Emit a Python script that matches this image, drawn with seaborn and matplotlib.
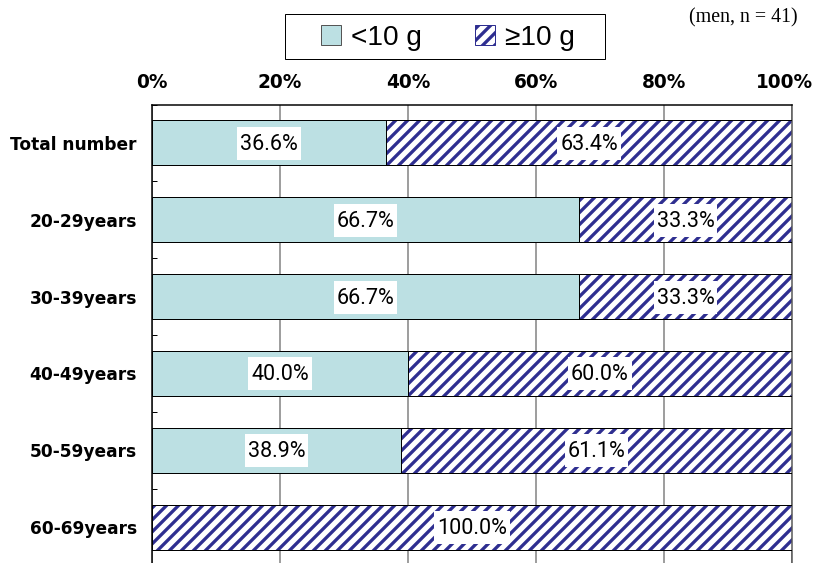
import matplotlib
matplotlib.use("Agg")
import matplotlib.pyplot as plt
from matplotlib.patches import Patch, Rectangle
from matplotlib.path import Path
from matplotlib.transforms import ScaledTranslation
import seaborn as sns
import pandas as pd

# Share of men by daily intake, per age group (percent)
groups = ["Total number", "20-29years", "30-39years", "40-49years", "50-59years", "60-69years"]
under_10g = [36.6, 66.7, 66.7, 40.0, 38.9, 0.0]
over_10g = [63.4, 33.3, 33.3, 60.0, 61.1, 100.0]
x_ticks = [0, 20, 40, 60, 80, 100]
x_tick_labels = ["0%", "20%", "40%", "60%", "80%", "100%"]
legend_labels = ["<10 g", "≥10 g"]
note = "(men, n = 41)"

LIGHT = "#BCE0E3"
NAVY = "#2E2E90"

sns.set_theme(style="white")
plt.rcParams["hatch.linewidth"] = 3.3
plt.rcParams["font.family"] = ["Liberation Sans", "DejaVu Sans"]
plt.rcParams["text.color"] = "black"
plt.rcParams["xtick.color"] = "black"
plt.rcParams["ytick.color"] = "black"

df = pd.DataFrame({"group": groups, "under": under_10g, "over": over_10g})
df["total"] = df["under"] + df["over"]

W, H = 819, 563
fig = plt.figure(figsize=(W / 72, H / 72), dpi=72)
ax = fig.add_axes([152 / W, 1 - 565.5 / H, 640 / W, (565.5 - 104.5) / H])

bar_w = 0.585
# full-length hatched bar (the >=10 g share sits on the right)
sns.barplot(data=df, x="total", y="group", orient="h", ax=ax, width=bar_w,
            color="white", edgecolor=NAVY, hatch="//", linewidth=0, saturation=1)
# plain bar for the <10 g share drawn over its left part
sns.barplot(data=df, x="under", y="group", orient="h", ax=ax, width=bar_w,
            color=LIGHT, edgecolor="none", linewidth=0, saturation=1)
# black outlines for every segment
for i, (u, o) in enumerate(zip(under_10g, over_10g)):
    if u > 0:
        ax.barh(i, u, height=bar_w, left=0, fill=False, edgecolor="black", linewidth=1.0, zorder=3)
    if o > 0:
        ax.barh(i, o, height=bar_w, left=u, fill=False, edgecolor="black", linewidth=1.0, zorder=3)


def label_box(x0, y0, width, height, mutation_size):
    # white plate behind the value labels, taller above the text than below
    l, r, b, t = 3.0, 3.0, 5.0, 7.0
    xa, xb = x0 - l, x0 + width + r
    ya, yb = y0 - b, y0 + height + t
    return Path([(xa, ya), (xb, ya), (xb, yb), (xa, yb), (xa, ya)],
                [Path.MOVETO, Path.LINETO, Path.LINETO, Path.LINETO, Path.CLOSEPOLY])


label_font = dict(family=["Roboto", "DejaVu Sans"], size=21.5, color="black")
box = dict(boxstyle=label_box, facecolor="white", edgecolor="none")
for i, (u, o) in enumerate(zip(under_10g, over_10g)):
    if u > 0:
        ax.text(u / 2, i + 0.02, f"{u:.1f}%", ha="center", va="center", bbox=box, zorder=4, **label_font)
    if o > 0:
        ax.text(u + o / 2, i + 0.02, f"{o:.1f}%", ha="center", va="center", bbox=box, zorder=4, **label_font)

ax.set_xlim(0, 100)
ax.set_ylim(5.5, -0.5)
ax.set_xlabel("")
ax.set_ylabel("")
ax.set_xticks(x_ticks)
ax.set_xticklabels(x_tick_labels)
ax.xaxis.tick_top()
ax.tick_params(axis="x", length=0, pad=13)
for t in ax.get_xticklabels():
    t.set_fontfamily(["DejaVu Sans"])
    t.set_fontweight("bold")
    t.set_fontsize(18.5)
# keep the last percentage inside the canvas
last = ax.get_xticklabels()[-1]
last.set_horizontalalignment("right")
last.set_transform(last.get_transform() + ScaledTranslation(21 / 72, 0, fig.dpi_scale_trans))

ax.set_yticks(range(len(groups)))
ax.set_yticklabels(groups)
ax.tick_params(axis="y", which="major", length=0, pad=15)
ax.set_yticks([k - 0.5 for k in range(len(groups) + 1)], minor=True)
ax.tick_params(axis="y", which="minor", direction="in", length=5, width=1, color="black", left=True)
for t in ax.get_yticklabels():
    t.set_fontfamily(["DejaVu Sans"])
    t.set_fontweight("bold")
    t.set_fontsize(17)

ax.grid(axis="x", color="#808080", linewidth=1.5)
ax.set_axisbelow(True)
for side in ["top", "left"]:
    ax.spines[side].set_color("black")
    ax.spines[side].set_linewidth(1.5)
ax.spines["right"].set_color("#555555")
ax.spines["right"].set_linewidth(1.5)
ax.spines["bottom"].set_visible(False)

# legend with its own frame
handles = [Patch(facecolor=LIGHT, edgecolor="#555555", linewidth=1.0),
           Patch(facecolor="white", edgecolor=NAVY, hatch="//", linewidth=1.0)]
leg = fig.legend(handles, legend_labels, loc="center", bbox_to_anchor=(448 / W, 1 - 38 / H),
                 ncol=2, frameon=False,
                 prop=dict(family=["Liberation Sans", "DejaVu Sans"], size=28),
                 handlelength=0.7, handleheight=0.7, handletextpad=0.36, columnspacing=1.9,
                 borderpad=0, borderaxespad=0)
for t in leg.get_texts():
    t.set_color("black")
fig.patches.append(Rectangle((285 / W, 1 - 59 / H), 320 / W, 45 / H, transform=fig.transFigure,
                             facecolor="none", edgecolor="black", linewidth=1.0))

fig.text(798 / W, 1 - 18 / H, note, ha="right", va="center",
         family=["Liberation Serif", "DejaVu Serif"], size=20)

fig.savefig("out.png", dpi=72)
